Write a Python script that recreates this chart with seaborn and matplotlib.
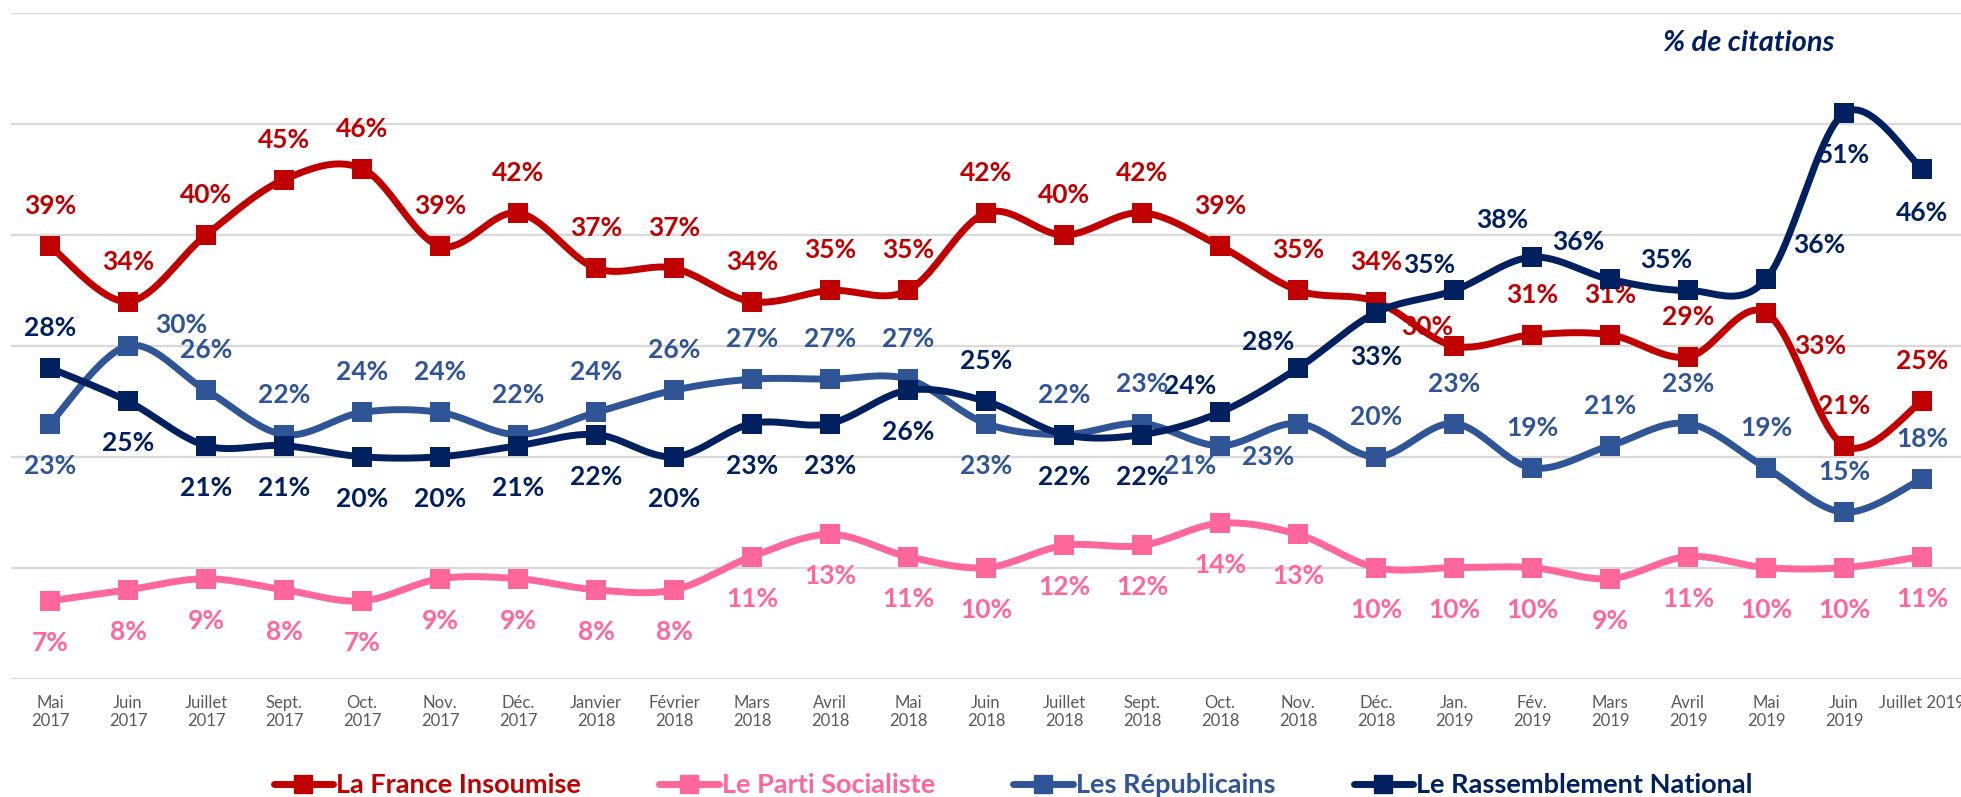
import numpy as np
import matplotlib
matplotlib.use("Agg")
import matplotlib.pyplot as plt
import seaborn as sns
from matplotlib.lines import Line2D

# --- data -------------------------------------------------------------
months = ["Mai\n2017", "Juin\n2017", "Juillet\n2017", "Sept.\n2017", "Oct.\n2017",
          "Nov.\n2017", "Déc.\n2017", "Janvier\n2018", "Février\n2018", "Mars\n2018",
          "Avril\n2018", "Mai\n2018", "Juin\n2018", "Juillet\n2018", "Sept.\n2018",
          "Oct.\n2018", "Nov.\n2018", "Déc.\n2018", "Jan.\n2019", "Fév.\n2019",
          "Mars\n2019", "Avril\n2019", "Mai\n2019", "Juin\n2019", "Juillet 2019"]

series_names = ["La France Insoumise", "Le Parti Socialiste",
                "Les Républicains", "Le Rassemblement National"]

lfi = [39, 34, 40, 45, 46, 39, 42, 37, 37, 34, 35, 35, 42, 40, 42, 39, 35, 34, 30, 31, 31, 29, 33, 21, 25]
ps = [7, 8, 9, 8, 7, 9, 9, 8, 8, 11, 13, 11, 10, 12, 12, 14, 13, 10, 10, 10, 9, 11, 10, 10, 11]
lr = [23, 30, 26, 22, 24, 24, 22, 24, 26, 27, 27, 27, 23, 22, 23, 21, 23, 20, 23, 19, 21, 23, 19, 15, 18]
rn = [28, 25, 21, 21, 20, 20, 21, 22, 20, 23, 23, 26, 25, 22, 22, 24, 28, 33, 35, 38, 36, 35, 36, 51, 46]

colors = ["#C00000", "#FF6699", "#2F5597", "#002060"]

# label placement (pixel offsets, +dy = downwards)
A = (0, -40)
B = (0, 42)
pos_lfi = [A] * 18 + [(-27, -19), A, A, A, (54, 33), A, A]
pos_ps = [B] * 25
pos_lr = [B, (53, -21)] + [A] * 10 + [B, A, A, (-30, 20), (-30, 33)] + [A] * 8
pos_rn = [A] + [B] * 11 + [A, B, B, (-30, -26), (-30, -26), (0, 44), (-25, -25),
                           (-30, -37), (-32, -37), (-22, -30), (53, -34), B, (0, 44)]


def smooth(vals, steps=24):
    """Courbe lissée façon Excel (Catmull-Rom en Bézier)."""
    y = np.asarray(vals, float)
    p = np.column_stack([np.arange(len(y), dtype=float), y])
    ext = np.vstack([p[0], p, p[-1]])
    t = np.linspace(0, 1, steps, endpoint=False)[:, None]
    out = []
    for i in range(len(p) - 1):
        p0, p1, p2, p3 = ext[i], ext[i + 1], ext[i + 2], ext[i + 3]
        c1 = p1 + (p2 - p0) / 6
        c2 = p2 - (p3 - p1) / 6
        out.append((1 - t) ** 3 * p1 + 3 * (1 - t) ** 2 * t * c1
                   + 3 * (1 - t) * t ** 2 * c2 + t ** 3 * p2)
    out.append(p[-1][None, :])
    return np.vstack(out)


sns.set_style("white")
narrow = ["Liberation Sans Narrow", "Lato", "DejaVu Sans"]
bold = ["Lato", "DejaVu Sans"]

W, H = 1961, 797
fig = plt.figure(figsize=(W / 100, H / 100), dpi=100)
ax = fig.add_axes([11 / W, 1 - 678.5 / H, 1 - 11 / W, (678.5 - 13.3) / H])

all_series = [lfi, ps, lr, rn]
all_pos = [pos_lfi, pos_ps, pos_lr, pos_rn]
x = np.arange(len(months))

for k, (vals, c, pos) in enumerate(zip(all_series, colors, all_pos)):
    curve = smooth(vals)
    sns.lineplot(x=curve[:, 0], y=curve[:, 1], sort=False, estimator=None,
                 color=c, lw=5, ax=ax, zorder=3 + k)
    sns.scatterplot(x=x, y=vals, marker="s", s=190, color=c, linewidth=0,
                    ax=ax, zorder=3.5 + k, legend=False)
    for xi, v, (dx, dy) in zip(x, vals, pos):
        ax.annotate(f"{v}%", (xi, v), xytext=(dx, -dy), textcoords="offset pixels",
                    ha="center", va="center", color=c, fontsize=19,
                    fontweight="bold", family=bold, zorder=2)

ax.set_xlim(-0.5, len(months) - 0.5)
ax.set_ylim(0, 60)
ax.set_yticks(range(0, 61, 10))
ax.set_yticklabels([])
ax.set_xticks(x)
ax.set_xticklabels(months, family=narrow, fontsize=12, color="#595959",
                   linespacing=1.15)
ax.tick_params(axis="both", length=0)
ax.tick_params(axis="x", pad=12)
ax.grid(axis="y", color="#D9D9D9", lw=1.6)
ax.grid(axis="x", visible=False)
for s in ax.spines.values():
    s.set_visible(False)

fig.text(1749 / W, 1 - 43 / H, "% de citations", ha="center", va="center",
         color="#002060", fontsize=21, fontweight="bold", fontstyle="italic",
         family=bold)

handles = [Line2D([], [], color=c, lw=5, marker="s", ms=13) for c in colors]
fig.legend(handles, series_names, loc="center", bbox_to_anchor=(1013 / W, 1 - 785 / H),
           ncol=4, frameon=False, handlelength=2.2, handletextpad=0.1,
           columnspacing=2.9, labelcolor=colors,
           prop={"family": bold, "weight": "bold", "size": 19.5})

fig.savefig("out.png", dpi=100)
plt.close()
